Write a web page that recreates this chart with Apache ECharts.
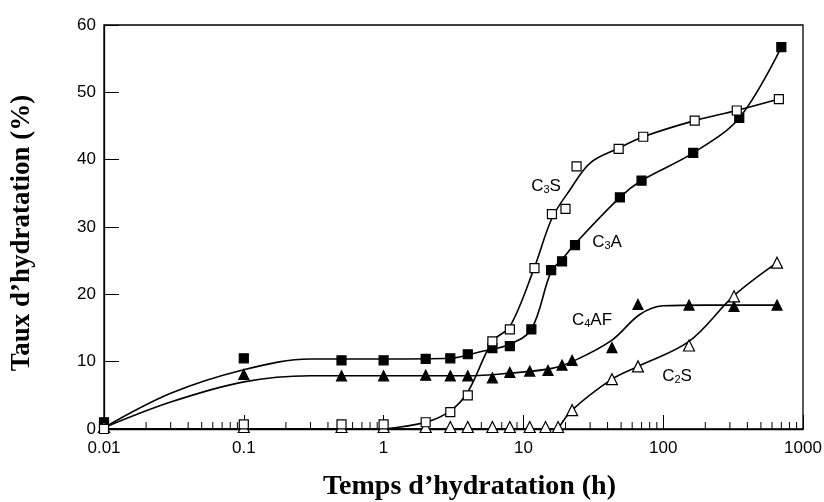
<!DOCTYPE html>
<html><head><meta charset="utf-8">
<script src="https://cdn.jsdelivr.net/npm/echarts@6/dist/echarts.min.js"></script>
<style>html,body{margin:0;padding:0;background:#fff}#c{width:824px;height:502px}</style>
</head><body><div id="c"></div>
<script>
// ---- data ----
const xTickLabels = ['0.01', '0.1', '1', '10', '100', '1000'];
const yTickLabels = ['0', '10', '20', '30', '40', '50', '60'];

// measured points (markers)
const c3sT = [0.01, 0.1, 0.5, 1, 2, 3, 4, 6, 8, 12, 16, 20, 24, 48, 72, 168, 336, 672];
const c3sV = [0, 0.7, 0.7, 0.7, 1, 2.5, 5, 13, 14.8, 23.9, 31.9, 32.7, 39, 41.6, 43.4, 45.8, 47.3, 49];

const c3aT = [0.01, 0.1, 0.5, 1, 2, 3, 4, 6, 8, 11.4, 15.8, 18.9, 23.4, 49, 70, 164, 350, 700];
const c3aV = [1, 10.5, 10.2, 10.2, 10.4, 10.5, 11.1, 12, 12.3, 14.8, 23.6, 24.9, 27.3, 34.4, 36.9, 41, 46.2, 56.7];

const c4afT = [0.1, 0.5, 1, 2, 3, 4, 6, 8, 11.1, 15, 18.9, 22.3, 43, 66, 153, 321, 652];
const c4afV = [8.1, 7.9, 7.9, 8.0, 7.9, 7.9, 7.6, 8.4, 8.6, 8.7, 9.5, 10.2, 12.1, 18.5, 18.4, 18.2, 18.4];

const c2sT = [0.01, 0.1, 0.5, 1, 2, 3, 4, 6, 8, 11.1, 14.4, 17.7, 22.3, 43, 66, 153, 321, 652];
const c2sV = [0.3, 0.3, 0.3, 0.3, 0.3, 0.3, 0.3, 0.3, 0.3, 0.3, 0.3, 0.3, 2.8, 7.4, 9.3, 12.4, 19.7, 24.7];

// fitted curves
const c3sFlatT = [0.01, 1];
const c3sFlatV = [0, 0];
const c3sCurveT = [1, 2, 3, 4, 6, 8, 12, 16, 21.5, 30, 48, 72, 168, 336, 672];
const c3sCurveV = [0, 1, 2.7, 5.5, 13, 15.2, 24, 31.3, 35.5, 39.5, 41.7, 43.4, 45.8, 47.3, 49];

const c3aCurveT = [0.01, 0.03, 0.1, 0.3, 1, 3, 5, 8, 11.4, 15.8, 18.9, 23.4, 49, 70, 164, 350, 700];
const c3aCurveV = [0.2, 5.3, 8.8, 10.4, 10.4, 10.5, 11.5, 12.6, 14.8, 23.4, 25.2, 27.5, 34.4, 36.9, 41, 46.2, 56.7];

const c4afCurveT = [0.01, 0.03, 0.1, 0.3, 1, 4, 8, 16, 24, 43, 68, 100, 200, 652];
const c4afCurveV = [0.2, 4, 7, 7.9, 7.9, 7.9, 8.3, 9, 10.3, 13.2, 17, 18.3, 18.4, 18.4];

const c2sFlatT = [0.01, 17.7];
const c2sFlatV = [0, 0];
const c2sCurveT = [17.7, 22.3, 43, 66, 153, 321, 652];
const c2sCurveV = [0, 2.8, 7.4, 9.3, 13, 19.8, 24.7];

// ---- build chart ----
const zip = (t, v) => t.map((x, i) => [x, v[i]]);
const minorTicks = [];
[0.01, 0.1, 1, 10, 100].forEach(d => { for (let k = 2; k <= 9; k++) minorTicks.push([+(k * d).toPrecision(3), 0]); });

const INK = '#000';
const curve = (name, t, v, smooth) => ({
  name, type: 'line', data: zip(t, v), smooth: smooth,
  showSymbol: false, symbol: 'none', lineStyle: { color: INK, width: 1.6 }, z: 2, silent: true
});
const marks = (name, t, v, symbol, filled, size) => ({
  name, type: 'scatter', data: zip(t, v), symbol, symbolSize: size,
  itemStyle: { color: filled ? INK : '#fff', borderColor: INK, borderWidth: 1.2, opacity: 1 }, z: 3
});

const sub = (a, b, c) => ({
  type: 'text',
  style: {
    text: '{m|' + a + '}{s|' + b + '}{m|' + c + '}',
    rich: {
      m: { fontFamily: 'Liberation Sans', fontSize: 17, fill: INK, verticalAlign: 'bottom', lineHeight: 20 },
      s: { fontFamily: 'Liberation Sans', fontSize: 11, fill: INK, verticalAlign: 'bottom', lineHeight: 16 }
    },
    align: 'center', verticalAlign: 'middle'
  }
});

const chart = echarts.init(document.getElementById('c'), null, { renderer: 'canvas' });
const g1 = Object.assign(sub('C', '3', 'S'), { x: 546, y: 185 });
const g2 = Object.assign(sub('C', '3', 'A'), { x: 607, y: 241 });
const g3 = Object.assign(sub('C', '4', 'AF'), { x: 592, y: 319 });
const g4 = Object.assign(sub('C', '2', 'S'), { x: 677, y: 375 });

chart.setOption({
  animation: false,
  backgroundColor: '#fff',
  grid: { left: 104, right: 21, top: 25, bottom: 73, outerBoundsMode: 'none', containLabel: false,
    show: true, borderColor: INK, borderWidth: 1.3, backgroundColor: 'transparent' },
  xAxis: {
    type: 'log', logBase: 10, min: 0.01, max: 1000,
    name: 'Temps d\u2019hydratation (h)', nameLocation: 'middle', nameGap: 44,
    nameTextStyle: { fontFamily: 'Liberation Serif', fontWeight: 'bold', fontSize: 28, color: INK, padding: [0, 0, 0, 32] },
    axisLine: { lineStyle: { color: INK, width: 1.3 } },
    axisTick: { inside: true, length: 14, lineStyle: { color: INK, width: 1 } },
    axisLabel: { color: INK, fontFamily: 'Liberation Sans', fontSize: 17, margin: 11,
      formatter: v => { const i = Math.round(Math.log10(v)) + 2; return xTickLabels[i] ?? ''; } },
    splitLine: { show: false }
  },
  yAxis: {
    type: 'value', min: 0, max: 60, interval: 10,
    name: 'Taux d\u2019hydratation (%)', nameLocation: 'middle', nameGap: 68,
    nameTextStyle: { fontFamily: 'Liberation Serif', fontWeight: 'bold', fontSize: 27, color: INK, padding: [0, 12, 0, 0] },
    axisLine: { show: true, lineStyle: { color: INK, width: 1.3 } },
    axisTick: { show: true, inside: true, length: 15, lineStyle: { color: INK, width: 1 } },
    axisLabel: { color: INK, fontFamily: 'Liberation Sans', fontSize: 17, margin: 8,
      formatter: v => yTickLabels[Math.round(v / 10)] ?? '' },
    splitLine: { show: false }
  },
  graphic: [g1, g2, g3, g4],
  series: [
    {
      type: 'custom', data: minorTicks, silent: true, z: 1,
      renderItem: (params, api) => {
        const p = api.coord([api.value(0), 0]);
        return { type: 'line', shape: { x1: p[0], y1: p[1], x2: p[0], y2: p[1] - 7 }, style: { stroke: INK, lineWidth: 1 } };
      }
    },
    curve('C3S flat', c3sFlatT, c3sFlatV, false),
    curve('C3S fit', c3sCurveT, c3sCurveV, 0.35),
    curve('C3A fit', c3aCurveT, c3aCurveV, 0.35),
    curve('C4AF fit', c4afCurveT, c4afCurveV, 0.35),
    curve('C2S flat', c2sFlatT, c2sFlatV, false),
    curve('C2S fit', c2sCurveT, c2sCurveV, 0.35),
    marks('C3A', c3aT, c3aV, 'rect', true, 9),
    marks('C4AF', c4afT, c4afV, 'triangle', true, 10),
    marks('C2S', c2sT, c2sV, 'triangle', false, 11),
    marks('C3S', c3sT, c3sV, 'rect', false, 9)
  ]
});
</script></body></html>
